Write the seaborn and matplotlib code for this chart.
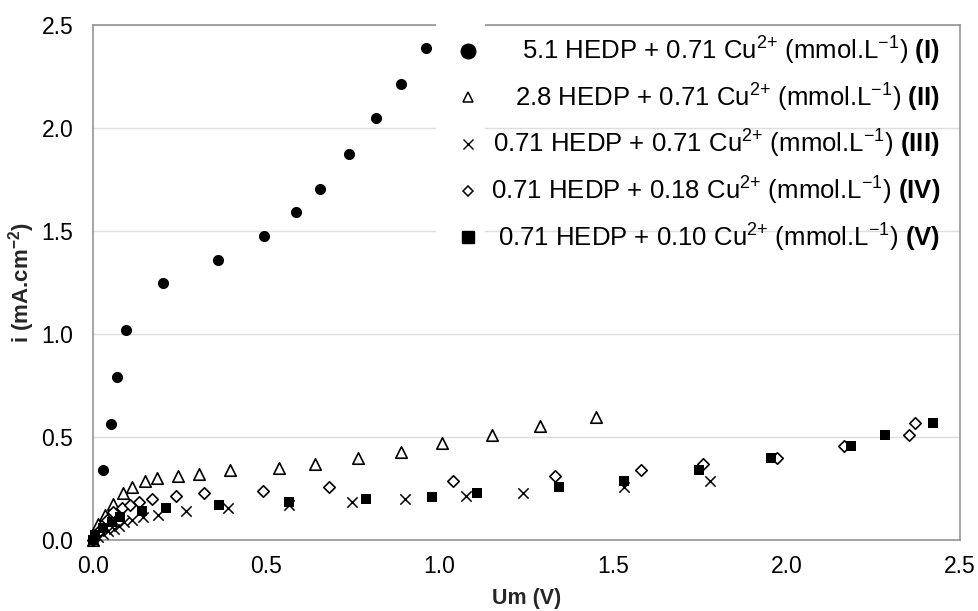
import matplotlib
matplotlib.use("Agg")
import matplotlib.pyplot as plt
from matplotlib.lines import Line2D
from matplotlib.patches import Rectangle
import seaborn as sns
import pandas as pd

# ---- data ----
x_I = [0, 0.031, 0.052, 0.071, 0.096, 0.202, 0.36, 0.493, 0.587, 0.656, 0.739, 0.816, 0.889, 0.962]
y_I = [0, 0.338, 0.565, 0.79, 1.02, 1.25, 1.36, 1.475, 1.59, 1.705, 1.875, 2.047, 2.216, 2.388]

x_II = [0, 0.016, 0.035, 0.059, 0.086, 0.112, 0.151, 0.186, 0.247, 0.307, 0.396, 0.538, 0.641, 0.766, 0.888, 1.007, 1.15, 1.289, 1.452]
y_II = [0, 0.08, 0.122, 0.175, 0.23, 0.259, 0.284, 0.299, 0.313, 0.321, 0.341, 0.349, 0.37, 0.398, 0.425, 0.47, 0.511, 0.555, 0.597]

x_III = [0, 0.015, 0.03, 0.045, 0.06, 0.075, 0.09, 0.112, 0.144, 0.187, 0.269, 0.391, 0.567, 0.746, 0.9, 1.076, 1.239, 1.531, 1.779]
y_III = [0, 0.014, 0.028, 0.042, 0.055, 0.07, 0.085, 0.097, 0.11, 0.122, 0.141, 0.154, 0.172, 0.186, 0.2, 0.214, 0.227, 0.256, 0.284]

x_IV = [0, 0.02, 0.04, 0.059, 0.084, 0.107, 0.134, 0.172, 0.24, 0.321, 0.49, 0.682, 1.039, 1.332, 1.58, 1.76, 1.973, 2.165, 2.353, 2.37]
y_IV = [0, 0.05, 0.095, 0.138, 0.154, 0.17, 0.185, 0.197, 0.212, 0.227, 0.238, 0.258, 0.284, 0.311, 0.341, 0.37, 0.398, 0.454, 0.511, 0.568]

x_V = [0, 0.007, 0.031, 0.055, 0.079, 0.141, 0.211, 0.364, 0.567, 0.788, 0.978, 1.109, 1.344, 1.531, 1.747, 1.955, 2.187, 2.283, 2.421]
y_V = [0, 0.024, 0.06, 0.089, 0.11, 0.141, 0.155, 0.169, 0.183, 0.197, 0.211, 0.227, 0.255, 0.284, 0.341, 0.398, 0.454, 0.511, 0.568]

labels = [
    r"5.1 HEDP + 0.71 Cu$^{2{+}}$ (mmol.L$^{-1}$) $\mathbf{(I)}$",
    r"2.8 HEDP + 0.71 Cu$^{2{+}}$ (mmol.L$^{-1}$) $\mathbf{(II)}$",
    r"0.71 HEDP + 0.71 Cu$^{2{+}}$ (mmol.L$^{-1}$) $\mathbf{(III)}$",
    r"0.71 HEDP + 0.18 Cu$^{2{+}}$ (mmol.L$^{-1}$) $\mathbf{(IV)}$",
    r"0.71 HEDP + 0.10 Cu$^{2{+}}$ (mmol.L$^{-1}$) $\mathbf{(V)}$",
]
x_ticks = [0.0, 0.5, 1.0, 1.5, 2.0, 2.5]
y_ticks = [0.0, 0.5, 1.0, 1.5, 2.0, 2.5]
x_label = "Um (V)"
y_label = r"i (mA.cm$^{\mathbf{-2}}$)"

# ---- style ----
sns.set_theme(style="whitegrid")
plt.rcParams["font.family"] = ["Liberation Sans", "DejaVu Sans"]
plt.rcParams["mathtext.fontset"] = "custom"
plt.rcParams["mathtext.rm"] = "Liberation Sans"
plt.rcParams["mathtext.it"] = "Liberation Sans:italic"
plt.rcParams["mathtext.bf"] = "Liberation Sans:bold"
plt.rcParams["mathtext.default"] = "rm"

W, H = 979, 611
fig = plt.figure(figsize=(W / 100, H / 100), dpi=100)
ax = fig.add_axes([92.7 / W, 1 - 540 / H, (960 - 92.7) / W, (540 - 25) / H])

series = [
    (x_I, y_I, dict(marker="o", color="black", edgecolor="black", s=64, linewidth=0)),
    (x_II, y_II, dict(marker="^", facecolor="white", edgecolor="black", s=68, linewidth=1.2)),
    (x_III, y_III, dict(marker="x", color="black", s=55, linewidth=1.1)),
    (x_IV, y_IV, dict(marker="D", facecolor="white", edgecolor="black", s=34, linewidth=1.2)),
    (x_V, y_V, dict(marker="s", color="black", edgecolor="black", s=62, linewidth=0)),
]
for i, (xs, ys, kw) in enumerate(series):
    df = pd.DataFrame({"Um": xs, "i": ys})
    sns.scatterplot(data=df, x="Um", y="i", ax=ax, zorder=3 + i * 0.01, clip_on=False, **kw)

ax.set_xlim(0, 2.5)
ax.set_ylim(0, 2.5)
ax.set_xticks(x_ticks)
ax.set_yticks(y_ticks)
ax.set_xticklabels([f"{t:.1f}" for t in x_ticks])
ax.set_yticklabels([f"{t:.1f}" for t in y_ticks])
ax.tick_params(axis="both", length=0, labelsize=16.5, colors="black")
ax.tick_params(axis="y", pad=14)
ax.tick_params(axis="x", pad=11)
ax.grid(axis="x", visible=False)
ax.grid(axis="y", color="#dedede", linewidth=1.0)
for sp in ax.spines.values():
    sp.set_color("#8c8c8c")
    sp.set_linewidth(1.1)

ax.set_xlabel(x_label, fontsize=15.5, fontweight="bold", labelpad=7)
ax.set_ylabel(y_label, fontsize=16, fontweight="bold", labelpad=3)

# white patch behind the legend's marker column
ax.add_patch(Rectangle((436 / W, 1 - 268 / H), 49 / W, 250 / H, transform=fig.transFigure,
                       facecolor="white", edgecolor="none", zorder=2.6, clip_on=False))

handles = [
    Line2D([], [], linestyle="none", marker="o", markersize=10.5, color="black"),
    Line2D([], [], linestyle="none", marker="^", markersize=7.5, markerfacecolor="white",
           markeredgecolor="black", markeredgewidth=1.1),
    Line2D([], [], linestyle="none", marker="x", markersize=7.5, color="black", markeredgewidth=1.0),
    Line2D([], [], linestyle="none", marker="D", markersize=5.5, markerfacecolor="white",
           markeredgecolor="black", markeredgewidth=1.1),
    Line2D([], [], linestyle="none", marker="s", markersize=9, color="black"),
]
FS = 18.5
leg = ax.legend(handles, labels, loc="upper left", bbox_to_anchor=(455 / W, 1 - 35 / H),
                bbox_transform=fig.transFigure, frameon=False, fontsize=FS,
                handlelength=1.0, handletextpad=0.5, labelspacing=0.56, borderpad=0,
                borderaxespad=0)
leg.set_zorder(5)

# right-align legend texts
fig.canvas.draw()
renderer = fig.canvas.get_renderer()
right_px = 940
for t in leg.get_texts():
    bb = t.get_window_extent(renderer)
    fig.text(right_px / W, bb.y0 / H, t.get_text(), ha="right", va="bottom",
             fontsize=FS, color="black", zorder=6)
    t.set_visible(False)

fig.savefig("out.png", dpi=100)
